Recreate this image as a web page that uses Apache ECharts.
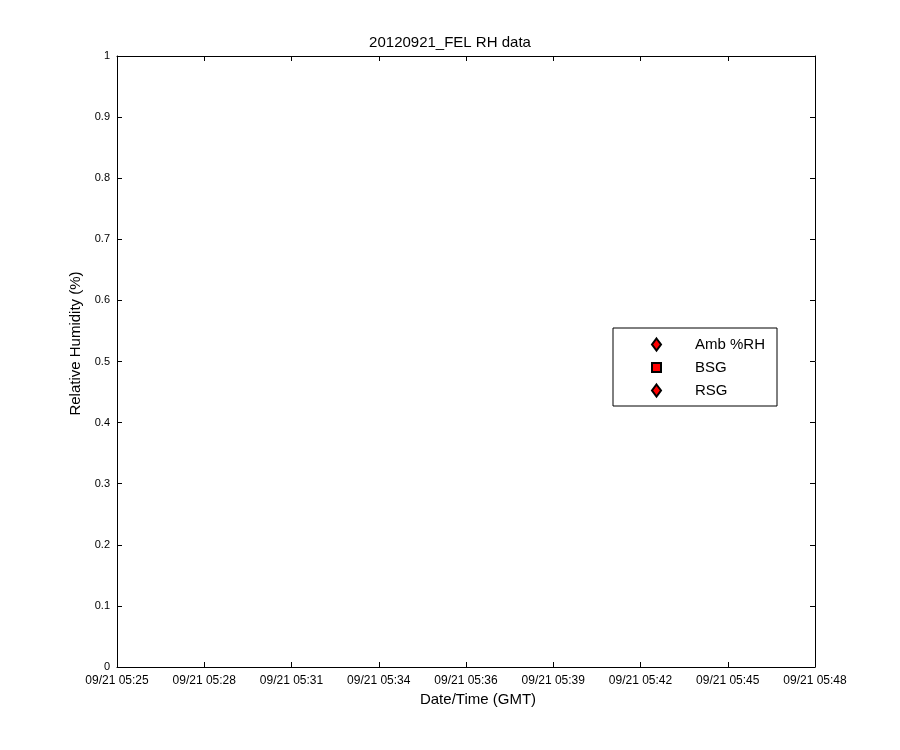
<!DOCTYPE html>
<html>
<head>
<meta charset="utf-8">
<script src="https://cdn.jsdelivr.net/npm/echarts@6/dist/echarts.min.js"></script>
<style>html,body{margin:0;padding:0;background:#fff}#c{width:900px;height:750px}</style>
</head>
<body>
<div id="c"></div>
<script>
const titleText = '20120921_FEL RH data';
const xLabels = ['09/21 05:25','09/21 05:28','09/21 05:31','09/21 05:34','09/21 05:36','09/21 05:39','09/21 05:42','09/21 05:45','09/21 05:48'];
const seriesNames = ['Amb %RH','BSG','RSG'];
const ambRH = [];
const bsg = [];
const rsg = [];
const yMin = 0, yMax = 1, yStep = 0.1;

const FONT = 'Liberation Sans, Arial, sans-serif';
const chart = echarts.init(document.getElementById('c'), null, {renderer:'canvas'});
const axisBase = {
  axisLine:{show:true, onZero:false, lineStyle:{color:'#000', width:1}},
  axisTick:{show:true, inside:true, length:5, lineStyle:{color:'#000'}},
  splitLine:{show:false}
};
const mk = {color:'#ff0000', borderColor:'#000', borderWidth:1, opacity:1};
chart.setOption({
  animation:false,
  backgroundColor:'#fff',
  title:{text:titleText, left:'center', top:35, textStyle:{fontFamily:FONT, fontSize:15, fontWeight:'normal', color:'#000'}, padding:0},
  grid:{left:117, right:85, top:56, bottom:83, containLabel:false},
  legend:{
    orient:'vertical', left:613, top:328,
    padding:[9,12,8,38], itemGap:8, itemWidth:9, itemHeight:12,
    borderColor:'#000', borderWidth:1, backgroundColor:'#fff',
    textStyle:{fontFamily:FONT, fontSize:15, color:'#000', lineHeight:13, padding:[0,0,0,29]},
    data:[
      {name:seriesNames[0], icon:'diamond'},
      {name:seriesNames[1], icon:'path://M4.5,0L4.5,0.01M4.5,12L4.5,12.01M0,1.5L9,1.5L9,10.5L0,10.5Z'},
      {name:seriesNames[2], icon:'diamond'}
    ]
  },
  xAxis:[
    Object.assign({type:'category', data:xLabels, boundaryGap:false, position:'bottom',
      name:'Date/Time (GMT)', nameLocation:'middle', nameGap:25,
      nameTextStyle:{fontFamily:FONT, fontSize:15, color:'#000', padding:[0,0,0,24]},
      axisLabel:{show:true, interval:0, margin:8, fontFamily:FONT, fontSize:12, color:'#000'}}, axisBase),
    Object.assign({type:'category', data:xLabels, boundaryGap:false, position:'top',
      axisLabel:{show:false}}, axisBase, {axisTick:{show:true, inside:true, length:5, interval:0, lineStyle:{color:'#000'}}})
  ],
  yAxis:[
    Object.assign({type:'value', min:yMin, max:yMax, interval:yStep, position:'left',
      name:'Relative Humidity (%)', nameLocation:'middle', nameGap:34, nameRotate:90,
      nameTextStyle:{fontFamily:FONT, fontSize:15, color:'#000', padding:[0,0,0,36]},
      axisLabel:{margin:7, fontFamily:FONT, fontSize:11, color:'#000'}}, axisBase),
    Object.assign({type:'value', min:yMin, max:yMax, interval:yStep, position:'right',
      axisLabel:{show:false}}, axisBase)
  ],
  series:[
    {name:seriesNames[0], type:'scatter', symbol:'diamond', data:ambRH, itemStyle:mk},
    {name:seriesNames[1], type:'scatter', symbol:'rect', data:bsg, itemStyle:mk},
    {name:seriesNames[2], type:'scatter', symbol:'diamond', data:rsg, itemStyle:mk}
  ]
});
</script>
</body>
</html>
